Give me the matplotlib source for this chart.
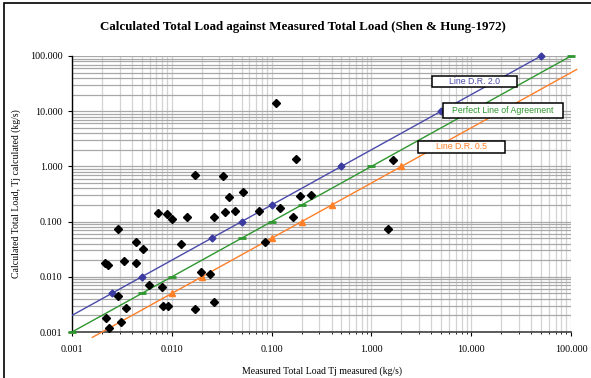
import matplotlib
matplotlib.use("Agg")
import matplotlib.pyplot as plt
import numpy as np
from matplotlib.patches import Rectangle
from matplotlib.ticker import LogLocator, FixedLocator, FixedFormatter

# measured vs calculated total load (kg/s)
measured = [0.00214, 0.00229, 0.00219, 0.00235, 0.00287, 0.00287, 0.0031, 0.00334, 0.00348,
            0.00438, 0.00438, 0.00511, 0.00595, 0.00732, 0.00792, 0.0081, 0.00901, 0.00922,
            0.00998, 0.01245, 0.0143, 0.01696, 0.01708, 0.01984, 0.02398, 0.02648, 0.02648,
            0.03236, 0.0339, 0.03716, 0.04268, 0.05133, 0.0753, 0.0859, 0.1107, 0.1214,
            0.162, 0.1756, 0.1926, 0.2465, 1.477, 1.635]
calculated = [0.0176, 0.0164, 0.0018, 0.0012, 0.072, 0.0044, 0.0015, 0.0196, 0.0027,
              0.043, 0.018, 0.032, 0.0071, 0.145, 0.0065, 0.0030, 0.137, 0.0030,
              0.111, 0.039, 0.123, 0.69, 0.0026, 0.0124, 0.0114, 0.0035, 0.123,
              0.67, 0.149, 0.275, 0.156, 0.344, 0.156, 0.043, 13.8, 0.179, 0.120,
              1.39, 0.294, 0.303, 0.072, 1.31]

# reference lines (line end points and marked points)
dr2_line_x = [0.001, 50]
dr2_line_y = [0.002, 100]
dr2_pts_x = [0.0025, 0.005, 0.025, 0.05, 0.1, 0.5, 5, 50]
dr2_pts_y = [0.005, 0.01, 0.05, 0.1, 0.2, 1, 10, 100]

perfect_line_x = [0.001, 100]
perfect_line_y = [0.001, 100]
perfect_pts_x = [0.001, 0.005, 0.01, 0.05, 0.1, 0.2, 1, 10, 100]
perfect_pts_y = [0.001, 0.005, 0.01, 0.05, 0.1, 0.2, 1, 10, 100]

dr05_line_x = [0.0016, 114]
dr05_line_y = [0.0008, 57]
dr05_pts_x = [0.01, 0.02, 0.1, 0.2, 0.4, 2]
dr05_pts_y = [0.005, 0.01, 0.05, 0.1, 0.2, 1]

decades = [0.001, 0.01, 0.1, 1, 10, 100]
decade_labels = ["0.001", "0.010", "0.100", "1.000", "10.000", "100.000"]

BLUE = "#4a4aaa"
GREEN = "#2e962e"
ORANGE = "#ff7f27"
SERIF = "Liberation Serif"
SANS = "Liberation Sans"

W, H = 591, 378
fig = plt.figure(figsize=(W / 100, H / 100), dpi=100)
fig.patch.set_facecolor("white")
ax = fig.add_axes([72 / W, 1 - 332 / H, (571 - 72) / W, (332 - 56) / H])

ax.set_xscale("log")
ax.set_yscale("log")
ax.set_xlim(0.001, 100)
ax.set_ylim(0.001, 100)

# grid: horizontal darker than vertical, as in the original
ax.xaxis.set_minor_locator(LogLocator(base=10, subs=np.arange(2, 10)))
ax.yaxis.set_minor_locator(LogLocator(base=10, subs=np.arange(2, 10)))
ax.grid(True, axis="x", which="both", color="#d3d3d3", lw=0.9, zorder=0)
ax.grid(True, axis="y", which="both", color="#a8a8a8", lw=0.9, zorder=0)
ax.set_axisbelow(True)

ax.xaxis.set_major_locator(FixedLocator(decades))
ax.xaxis.set_major_formatter(FixedFormatter(decade_labels))
ax.yaxis.set_major_locator(FixedLocator(decades))
ax.yaxis.set_major_formatter(FixedFormatter(decade_labels))
ax.yaxis.set_minor_formatter(FixedFormatter([]))
ax.xaxis.set_minor_formatter(FixedFormatter([]))
ax.tick_params(which="major", length=3, width=0.8, color="black", labelsize=7.2)
ax.tick_params(axis="x", which="major", pad=6)
ax.tick_params(axis="y", which="major", pad=4)
ax.tick_params(axis="x", which="minor", length=1.5, width=0.6)
ax.tick_params(axis="y", which="minor", length=0)
for lbl in ax.get_xticklabels() + ax.get_yticklabels():
    lbl.set_fontfamily(SERIF)

for s in ["top", "right"]:
    ax.spines[s].set_visible(False)
ax.spines["left"].set_color("black")
ax.spines["bottom"].set_color("#404040")
ax.spines["left"].set_linewidth(1.0)
ax.spines["bottom"].set_linewidth(1.2)

# reference lines
ax.plot(dr2_line_x, dr2_line_y, color=BLUE, lw=1.0, zorder=3)
ax.plot(dr2_pts_x, dr2_pts_y, ls="none", marker="D", ms=3.5, color="#3a3aa0", zorder=4,
        clip_on=False)
ax.plot(perfect_line_x, perfect_line_y, color=GREEN, lw=1.0, zorder=3)
ax.plot(perfect_pts_x, perfect_pts_y, ls="none", marker="_", ms=6, mew=2, color=GREEN,
        zorder=4, clip_on=False)
ax.plot(dr05_line_x, dr05_line_y, color=ORANGE, lw=1.0, zorder=3, clip_on=False)
ax.plot(dr05_pts_x, dr05_pts_y, ls="none", marker="^", ms=4.5, color=ORANGE, zorder=4)

# measured data
ax.plot(measured, calculated, ls="none", marker="D", ms=3.8, color="black", zorder=5)

ax.set_xlabel("Measured Total Load Tj measured (kg/s)", family=SERIF, fontsize=7, labelpad=9)
ax.set_ylabel("Calculated Total Load, Tj calculated (kg/s)", family=SERIF, fontsize=7,
              labelpad=6)
fig.text(303 / W, 1 - 27 / H, "Calculated Total Load against Measured Total Load (Shen & Hung-1972)",
         family=SERIF, fontsize=9.4, fontweight="bold", ha="center", va="center")

# text boxes for the lines
boxes = [
    ("Line D.R. 2.0", BLUE, 432, 76, 517, 87),
    ("Perfect Line of Agreement", GREEN, 443, 103, 563, 118),
    ("Line D.R. 0.5", ORANGE, 418, 141, 505, 153),
]
for txt, col, x0, y0, x1, y1 in boxes:
    fig.add_artist(Rectangle((x0 / W, 1 - y1 / H), (x1 - x0) / W, (y1 - y0) / H,
                             transform=fig.transFigure, facecolor="white",
                             edgecolor="black", lw=1.1, zorder=10))
    fig.text((x0 + x1) / 2 / W, 1 - (y0 + y1) / 2 / H, txt, color=col, family=SANS,
             fontsize=6.3, ha="center", va="center", zorder=11)

# chart border (left and top visible)
fig.add_artist(Rectangle((4 / W, -0.05), 1.2, 1 - 2.5 / H + 0.05, transform=fig.transFigure,
                         facecolor="none", edgecolor="black", lw=1.2, zorder=0))

fig.savefig("out.png", dpi=100)
